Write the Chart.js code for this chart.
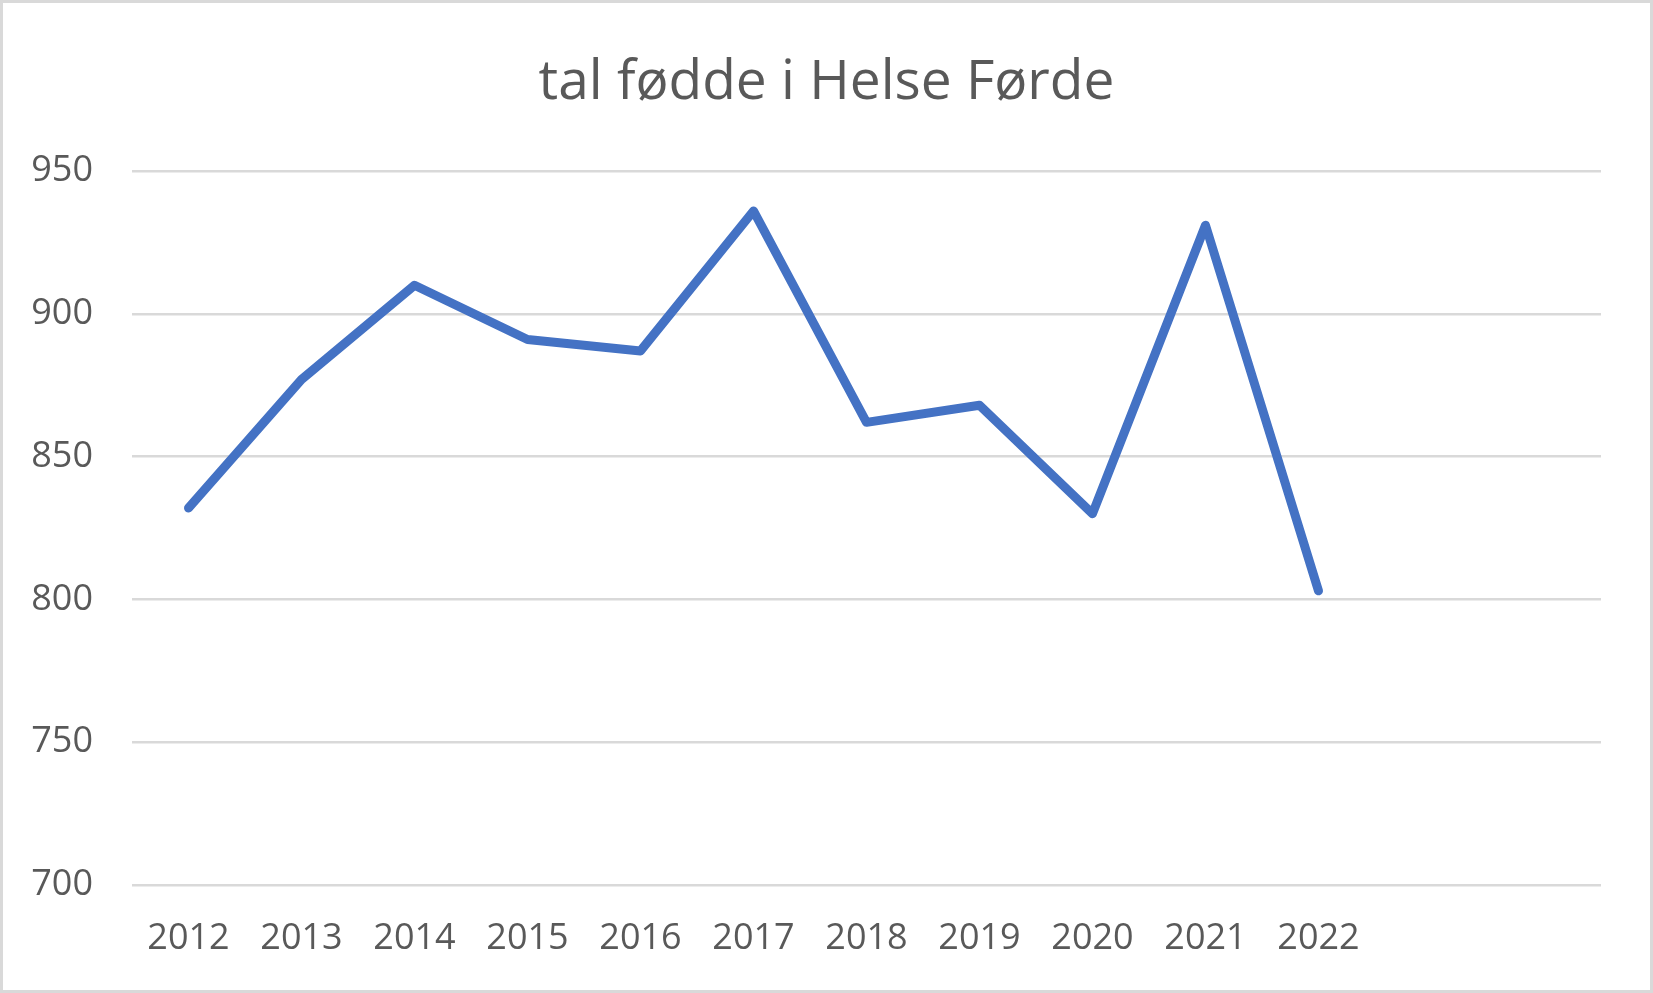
<!DOCTYPE html>
<html>
<head>
<meta charset="utf-8">
<script src="https://cdn.jsdelivr.net/npm/chart.js@4"></script>
<style>
  html, body { margin: 0; padding: 0; background: #fff; }
  #wrap { position: absolute; left: 0; top: 0; width: 1653px; height: 993px; box-sizing: border-box; border: 3px solid #d9d9d9; background: #fff; }
  #c { display: block; }
</style>
</head>
<body>
<div id="wrap"><canvas id="c" width="1647" height="987"></canvas></div>
<script>
const chartTitle = 'tal fødde i Helse Førde';
const categories = ['2012', '2013', '2014', '2015', '2016', '2017', '2018', '2019', '2020', '2021', '2022', '', ''];
const births = [832, 877, 910, 891, 887, 936, 862, 868, 830, 931, 803];
const yMin = 700;
const yMax = 950;
const yStep = 50;

const textColor = '#595959';
const fontFamily = '"Open Sans", "DejaVu Sans", sans-serif';

new Chart(document.getElementById('c'), {
  type: 'line',
  data: {
    labels: categories,
    datasets: [{
      label: chartTitle,
      data: births,
      borderColor: '#4472c4',
      backgroundColor: '#4472c4',
      borderWidth: 9,
      pointRadius: 0,
      pointHoverRadius: 0,
      tension: 0,
      borderJoinStyle: 'round',
      borderCapStyle: 'round',
      fill: false,
      yAxisID: 'y'
    }]
  },
  options: {
    responsive: false,
    devicePixelRatio: 1,
    animation: false,
    layout: { padding: { left: 0, right: 0, top: 0, bottom: 25 } },
    plugins: {
      legend: { display: false },
      tooltip: { enabled: false },
      title: {
        display: true,
        text: chartTitle,
        color: textColor,
        font: { family: fontFamily, size: 55, weight: 'normal', lineHeight: 1.2 },
        padding: { top: 47, bottom: 55 }
      }
    },
    scales: {
      x: {
        type: 'category',
        offset: true,
        grid: { display: false, drawTicks: false },
        border: { display: false },
        ticks: {
          color: textColor,
          font: { family: fontFamily, size: 36 },
          padding: 32,
          autoSkip: false,
          maxRotation: 0,
          minRotation: 0
        },
        afterFit: (s) => { s.height = 80; }
      },
      y: {
        position: 'left',
        min: yMin,
        max: yMax,
        grid: { color: '#d9d9d9', lineWidth: 2.5, drawTicks: false },
        border: { display: false },
        ticks: {
          stepSize: yStep,
          color: textColor,
          font: { family: fontFamily, size: 36 },
          padding: 39
        },
        afterFit: (s) => { s.width = 129; }
      },
      yRight: {
        position: 'right',
        display: true,
        min: yMin,
        max: yMax,
        grid: { display: false, drawTicks: false },
        border: { display: false },
        ticks: { display: false },
        afterFit: (s) => { s.width = 49; }
      }
    }
  }
});
</script>
</body>
</html>
